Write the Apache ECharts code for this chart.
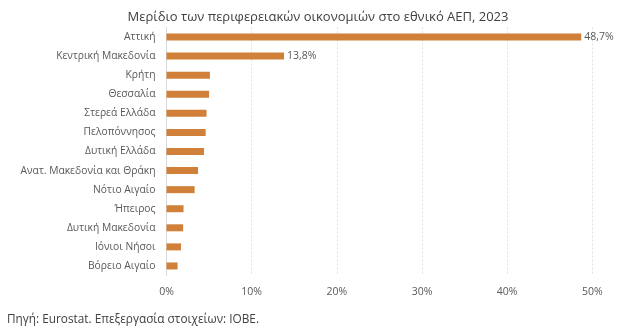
<!DOCTYPE html>
<html>
<head>
<meta charset="utf-8">
<script src="https://cdn.jsdelivr.net/npm/echarts@6/dist/echarts.min.js"></script>
<style>
html,body{margin:0;padding:0;background:#fff;}
#chart{width:636px;height:329px;}
</style>
</head>
<body>
<div id="chart"></div>
<script>
const categories = ["Αττική","Κεντρική Μακεδονία","Κρήτη","Θεσσαλία","Στερεά Ελλάδα","Πελοπόννησος","Δυτική Ελλάδα","Ανατ. Μακεδονία και Θράκη","Νότιο Αιγαίο","Ήπειρος","Δυτική Μακεδονία","Ιόνιοι Νήσοι","Βόρειο Αιγαίο"];
const values = [48.7, 13.8, 5.1, 5.0, 4.7, 4.6, 4.4, 3.7, 3.3, 2.0, 1.95, 1.7, 1.3];
const labelled = ["Αττική","Κεντρική Μακεδονία"];
const xTicks = [0, 10, 20, 30, 40, 50];
const titleText = "Μερίδιο των περιφερειακών οικονομιών στο εθνικό ΑΕΠ, 2023";
const sourceText = "Πηγή: Eurostat. Επεξεργασία στοιχείων: ΙΟΒΕ.";

const chart = echarts.init(document.getElementById('chart'), null, {renderer:'canvas'});
const font = "'Open Sans', sans-serif";
chart.setOption({
  animation:false,
  backgroundColor:'#fff',
  title:{
    text:titleText, left:'center', top:6,
    textStyle:{fontFamily:font, fontSize:13, fontWeight:'normal', color:'#404040'}
  },
  graphic:[{
    type:'text', left:7, top:314,
    style:{text:sourceText, font:"11.8px 'Open Sans', sans-serif", fill:'#404040'}
  }],
  grid:{left:166.5, right:43.7, top:27.5, height:248},
  xAxis:{
    type:'value', min:xTicks[0], max:xTicks[xTicks.length-1], interval:10,
    axisLine:{show:false}, axisTick:{show:false},
    axisLabel:{formatter:v=>v+'%', fontFamily:font, fontSize:10.5, color:'#595959', margin:11},
    splitLine:{show:true, lineStyle:{color:'#e0e0e0', type:[2,2], width:1}}
  },
  yAxis:{
    type:'category', data:categories, inverse:true,
    axisLine:{show:true, lineStyle:{color:'#d9d9d9', width:1}},
    axisTick:{show:false},
    axisLabel:{fontFamily:font, fontSize:10.3, color:'#595959', margin:11}
  },
  series:[{
    type:'bar', data:values.map((v,i)=>({value:v, label:{show:labelled.includes(categories[i])}})),
    barWidth:7,
    itemStyle:{color:'#D08038'},
    label:{position:'right', distance:3, formatter:p=>String(p.value).replace('.',',')+'%', fontFamily:font, fontSize:10.5, color:'#595959'}
  }]
});
</script>
</body>
</html>
